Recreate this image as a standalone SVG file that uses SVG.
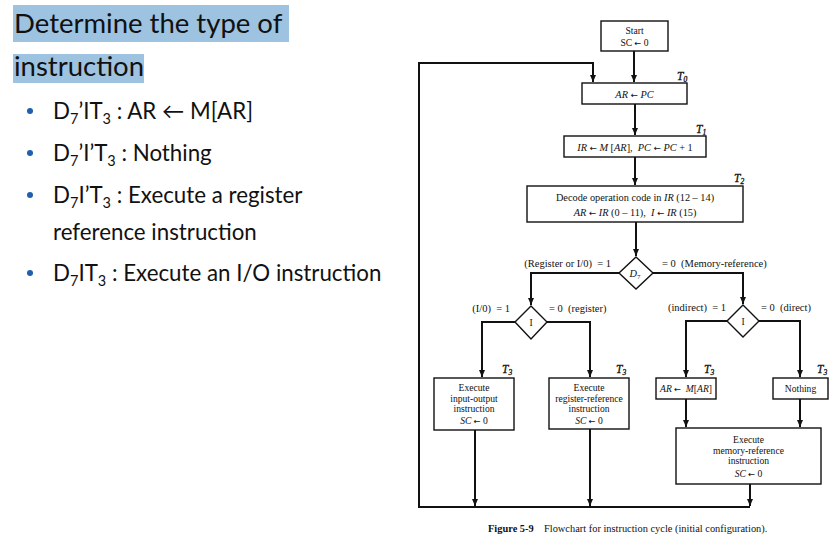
<svg xmlns="http://www.w3.org/2000/svg" width="836" height="545" viewBox="0 0 836 545">
  <defs>
    <marker id="arrow" markerUnits="userSpaceOnUse" markerWidth="8" markerHeight="8" refX="7" refY="4" orient="auto">
      <path d="M0,1 L7,4 L0,7 z" fill="#111"/>
    </marker>
    <style>
      .hl { fill: #9dc3e0; }
      .title { font-family: Lato, "Open Sans", sans-serif; font-size: 27.5px; fill: #111; }
      .bullet-text { font-family: Lato, "Open Sans", sans-serif; font-size: 22.3px; fill: #111; }
      .sub { font-size: 14.5px; }
      .dot { fill: #1f5fae; }
      .box { fill: #fff; stroke: #111; stroke-width: 1.4; }
      .wire { fill: none; stroke: #111; stroke-width: 2; }
      text { white-space: pre; }
      .t { font-family: "Liberation Serif", "DejaVu Serif", serif; font-size: 9.6px; fill: #111; text-anchor: middle; }
      .t1 { font-family: "Liberation Serif", "DejaVu Serif", serif; font-size: 10.3px; fill: #111; text-anchor: middle; }
      .lbl { font-family: "Liberation Serif", "DejaVu Serif", serif; font-size: 10.5px; fill: #111; }
      .tl { font-family: "Liberation Serif", "DejaVu Serif", serif; font-size: 11.5px; font-style: italic; fill: #111; stroke: #111; stroke-width: 0.3; }
      .i { font-style: italic; }
      .ar { font-family: "DejaVu Sans", sans-serif; font-style: normal; font-size: 0.85em; }
      .cap { font-family: "Liberation Serif", "DejaVu Serif", serif; font-size: 10.4px; fill: #111; }
    </style>
  </defs>

  <rect width="836" height="545" fill="#fff"/>

  <!-- slide text -->
  <g id="heading">
    <rect class="hl" x="13" y="5" width="276" height="37"/>
    <rect class="hl" x="13" y="54" width="131" height="29"/>
    <text class="title" x="14" y="33">Determine the type of</text>
    <text class="title" x="14" y="76">instruction</text>
  </g>

  <g id="bullets">
    <circle class="dot" cx="30" cy="111" r="3"/>
    <circle class="dot" cx="30" cy="153" r="3"/>
    <circle class="dot" cx="30" cy="195" r="3"/>
    <circle class="dot" cx="30" cy="273" r="3"/>
    <text class="bullet-text" x="53" y="119">D<tspan class="sub" dy="5">7</tspan><tspan dy="-5">’IT</tspan><tspan class="sub" dy="5">3</tspan><tspan dy="-5"> : AR ← M[AR]</tspan></text>
    <text class="bullet-text" x="53" y="161">D<tspan class="sub" dy="5">7</tspan><tspan dy="-5">’I’T</tspan><tspan class="sub" dy="5">3</tspan><tspan dy="-5"> : Nothing</tspan></text>
    <text class="bullet-text" x="53" y="203">D<tspan class="sub" dy="5">7</tspan><tspan dy="-5">I’T</tspan><tspan class="sub" dy="5">3</tspan><tspan dy="-5"> : Execute a register</tspan></text>
    <text class="bullet-text" x="53" y="240">reference instruction</text>
    <text class="bullet-text" x="53" y="281">D<tspan class="sub" dy="5">7</tspan><tspan dy="-5">IT</tspan><tspan class="sub" dy="5">3</tspan><tspan dy="-5"> : Execute an I/O instruction</tspan></text>
  </g>

  <!-- connectors -->
  <g id="connectors">
    <path class="wire" d="M634,51 V82" marker-end="url(#arrow)"/>
    <path class="wire" d="M419,507 V63 H593 V82" marker-end="url(#arrow)"/>
    <path class="wire" d="M635,104 V135" marker-end="url(#arrow)"/>
    <path class="wire" d="M635,157 V185" marker-end="url(#arrow)"/>
    <path class="wire" d="M636,222 V256" marker-end="url(#arrow)"/>
    <path class="wire" d="M619,273 H531 V305" marker-end="url(#arrow)"/>
    <path class="wire" d="M653,273 H743 V304" marker-end="url(#arrow)"/>
    <path class="wire" d="M515,322 H482 V377" marker-end="url(#arrow)"/>
    <path class="wire" d="M547,322 H590 V377" marker-end="url(#arrow)"/>
    <path class="wire" d="M727,321 H686 V377" marker-end="url(#arrow)"/>
    <path class="wire" d="M759,321 H800 V377" marker-end="url(#arrow)"/>
    <path class="wire" d="M686,399 V427" marker-end="url(#arrow)"/>
    <path class="wire" d="M800,399 V427" marker-end="url(#arrow)"/>
    <path class="wire" d="M475,430 V506" marker-end="url(#arrow)"/>
    <path class="wire" d="M590,429 V506" marker-end="url(#arrow)"/>
    <path class="wire" d="M750,484 V506" marker-end="url(#arrow)"/>
    <path class="wire" d="M418,507 H750"/>
  </g>

  <!-- flowchart nodes -->
  <g id="start">
    <rect class="box" x="601" y="21" width="67" height="30"/>
    <text class="t" x="634.5" y="33.5">Start</text>
    <text class="t" x="634.5" y="45.5">SC <tspan class="ar">←</tspan> 0</text>
  </g>

  <g id="fetch-ar">
    <rect class="box" x="582" y="83" width="105" height="21"/>
    <text class="t1" x="634.5" y="97.5"><tspan class="i">AR</tspan> <tspan class="ar">←</tspan> <tspan class="i">PC</tspan></text>
    <text class="tl" x="677" y="80">T<tspan font-size="7.5" dy="2">0</tspan></text>
  </g>

  <g id="fetch-ir">
    <rect class="box" x="564" y="136" width="142" height="21"/>
    <text class="t1" x="635" y="150.5"><tspan class="i">IR</tspan> <tspan class="ar">←</tspan> <tspan class="i">M</tspan> [<tspan class="i">AR</tspan>],  <tspan class="i">PC</tspan> <tspan class="ar">←</tspan> <tspan class="i">PC</tspan> + 1</text>
    <text class="tl" x="696" y="133">T<tspan font-size="7.5" dy="2">1</tspan></text>
  </g>

  <g id="decode">
    <rect class="box" x="527" y="186" width="216" height="36"/>
    <text class="t1" x="635" y="201">Decode operation code in <tspan class="i">IR</tspan> (12 – 14)</text>
    <text class="t1" x="635" y="215.5"><tspan class="i">AR</tspan> <tspan class="ar">←</tspan> <tspan class="i">IR</tspan> (0 – 11),  <tspan class="i">I</tspan> <tspan class="ar">←</tspan> <tspan class="i">IR</tspan> (15)</text>
    <text class="tl" x="734" y="182">T<tspan font-size="7.5" dy="2">2</tspan></text>
  </g>

  <g id="decision-d7">
    <polygon class="box" points="636,257 653,273 636,289 619,273"/>
    <text class="t1" x="635" y="277"><tspan class="i">D</tspan><tspan font-size="7" dy="2">7</tspan></text>
    <text class="lbl" x="611" y="266.5" text-anchor="end">(Register or I/0)  = 1</text>
    <text class="lbl" x="662" y="266.5">= 0  (Memory-reference)</text>
  </g>

  <g id="decision-i-left">
    <polygon class="box" points="531,306 547,322 531,339 515,322"/>
    <text class="t" x="531" y="325.5">I</text>
    <text class="lbl" x="510" y="311.5" text-anchor="end">(I/0)  = 1</text>
    <text class="lbl" x="549" y="311.5">= 0  (register)</text>
  </g>

  <g id="decision-i-right">
    <polygon class="box" points="743,305 759,321 743,337 727,321"/>
    <text class="t" x="743" y="324.5">I</text>
    <text class="lbl" x="726" y="310.5" text-anchor="end">(indirect)  = 1</text>
    <text class="lbl" x="761" y="310.5">= 0  (direct)</text>
  </g>

  <g id="exec-io">
    <rect class="box" x="434" y="378" width="80" height="52"/>
    <text class="t" x="474" y="391">Execute</text>
    <text class="t" x="474" y="401.5">input-output</text>
    <text class="t" x="474" y="412">instruction</text>
    <text class="t" x="474" y="424"><tspan class="i">SC</tspan> <tspan class="ar">←</tspan> 0</text>
    <text class="tl" x="502" y="373">T<tspan font-size="7.5" dy="2">3</tspan></text>
  </g>

  <g id="exec-register">
    <rect class="box" x="549" y="378" width="80" height="51"/>
    <text class="t" x="589" y="391">Execute</text>
    <text class="t" x="589" y="401.5">register-reference</text>
    <text class="t" x="589" y="412">instruction</text>
    <text class="t" x="589" y="424"><tspan class="i">SC</tspan> <tspan class="ar">←</tspan> 0</text>
    <text class="tl" x="616" y="373">T<tspan font-size="7.5" dy="2">3</tspan></text>
  </g>

  <g id="indirect-load">
    <rect class="box" x="656" y="378" width="60" height="21"/>
    <text class="t" x="686" y="392"><tspan class="i">AR</tspan> <tspan class="ar">←</tspan>  <tspan class="i">M</tspan>[<tspan class="i">AR</tspan>]</text>
    <text class="tl" x="704" y="373">T<tspan font-size="7.5" dy="2">3</tspan></text>
  </g>

  <g id="nothing">
    <rect class="box" x="773" y="378" width="55" height="21"/>
    <text class="t" x="800.5" y="392">Nothing</text>
    <text class="tl" x="817" y="373">T<tspan font-size="7.5" dy="2">3</tspan></text>
  </g>

  <g id="exec-memory">
    <rect class="box" x="676" y="428" width="145" height="56"/>
    <text class="t" x="748.5" y="443">Execute</text>
    <text class="t" x="748.5" y="453.5">memory-reference</text>
    <text class="t" x="748.5" y="464">instruction</text>
    <text class="t" x="748.5" y="476.5"><tspan class="i">SC</tspan> <tspan class="ar">←</tspan> 0</text>
  </g>

  <g id="caption">
    <text class="cap" x="488" y="532"><tspan font-weight="bold">Figure 5-9</tspan></text>
    <text class="cap" x="544" y="532">Flowchart for instruction cycle (initial configuration).</text>
  </g>
</svg>
